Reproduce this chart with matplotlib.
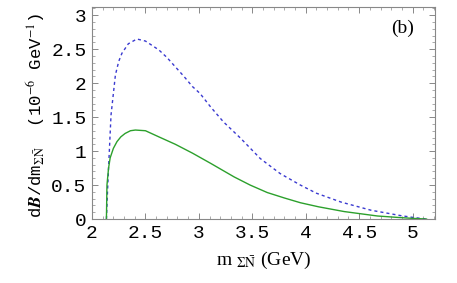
import matplotlib
matplotlib.use("Agg")
import matplotlib.pyplot as plt
from matplotlib.ticker import MultipleLocator

plt.rcParams["mathtext.fontset"] = "stix"

# dashed curve (blue)
m_dash = [2.135, 2.145, 2.156, 2.178, 2.219, 2.25, 2.28, 2.34, 2.42, 2.50, 2.625, 2.70,
          2.78, 2.86, 2.94, 3.01, 3.11, 3.23, 3.39, 3.575, 3.76, 3.95, 4.10, 4.33,
          4.61, 4.89, 5.02, 5.13]
b_dash = [0.0, 0.40, 0.79, 1.53, 2.12, 2.32, 2.44, 2.58, 2.65, 2.62, 2.49, 2.38,
          2.24, 2.10, 1.95, 1.85, 1.65, 1.43, 1.19, 0.89, 0.67, 0.50, 0.38, 0.25,
          0.13, 0.05, 0.02, 0.0]

# solid curve (green)
m_solid = [2.135, 2.14, 2.155, 2.17, 2.20, 2.234, 2.27, 2.31, 2.36, 2.406, 2.50,
           2.625, 2.78, 2.94, 3.11, 3.33, 3.48, 3.64, 3.80, 3.95, 4.12, 4.36,
           4.67, 4.85, 5.0, 5.13]
b_solid = [0.0, 0.5, 0.75, 0.90, 1.04, 1.14, 1.21, 1.26, 1.30, 1.31, 1.30,
           1.21, 1.10, 0.97, 0.82, 0.62, 0.50, 0.39, 0.31, 0.24, 0.18, 0.11,
           0.045, 0.025, 0.01, 0.0]

xticks = [2, 2.5, 3, 3.5, 4, 4.5, 5]
yticks = [0, 0.5, 1, 1.5, 2, 2.5, 3]

fig = plt.figure(figsize=(4.57, 2.83), dpi=100)
ax = fig.add_axes([0.2013, 0.226, 0.7507, 0.749])

ax.plot(m_dash, b_dash, color="#3a3ad0", lw=1.0, dashes=(2.2, 2.2))
ax.plot(m_solid, b_solid, color="#2ca02c", lw=1.0)

ax.set_xlim(2, 5.21)
ax.set_ylim(0, 3.12)
ax.set_xticks(xticks)
ax.set_yticks(yticks)
ax.set_xticklabels(["%g" % t for t in xticks])
ax.set_yticklabels(["%g" % t for t in yticks])
ax.xaxis.set_minor_locator(MultipleLocator(0.1))
ax.yaxis.set_minor_locator(MultipleLocator(0.1))
ax.tick_params(which="both", direction="in", top=True, right=True, color="#888888")
ax.tick_params(which="major", length=4, width=0.7, labelsize=14, pad=4)
ax.tick_params(which="minor", length=2, width=0.5)
for lab in ax.get_xticklabels() + ax.get_yticklabels():
    lab.set_family("Liberation Mono")
for s in ax.spines.values():
    s.set_color("#888888")
    s.set_linewidth(0.8)

ax.set_xlabel(r"m $_{\Sigma\bar{\mathrm{N}}}$ (GeV)", fontsize=14,
              family="Liberation Serif", labelpad=6)
ax.set_ylabel(r"d$\mathbfit{B}$/dm$_{\Sigma\bar{\mathrm{N}}}$  (10$^{-6}$ GeV$^{-1}$)",
              fontsize=12.5, family="Liberation Mono", labelpad=8)
ax.yaxis.set_label_coords(-0.13, 0.49)

ax.text(4.91, 2.81, "(b)", fontsize=14, family="Liberation Serif",
        ha="center", va="center")

fig.savefig("out.png", dpi=100)
